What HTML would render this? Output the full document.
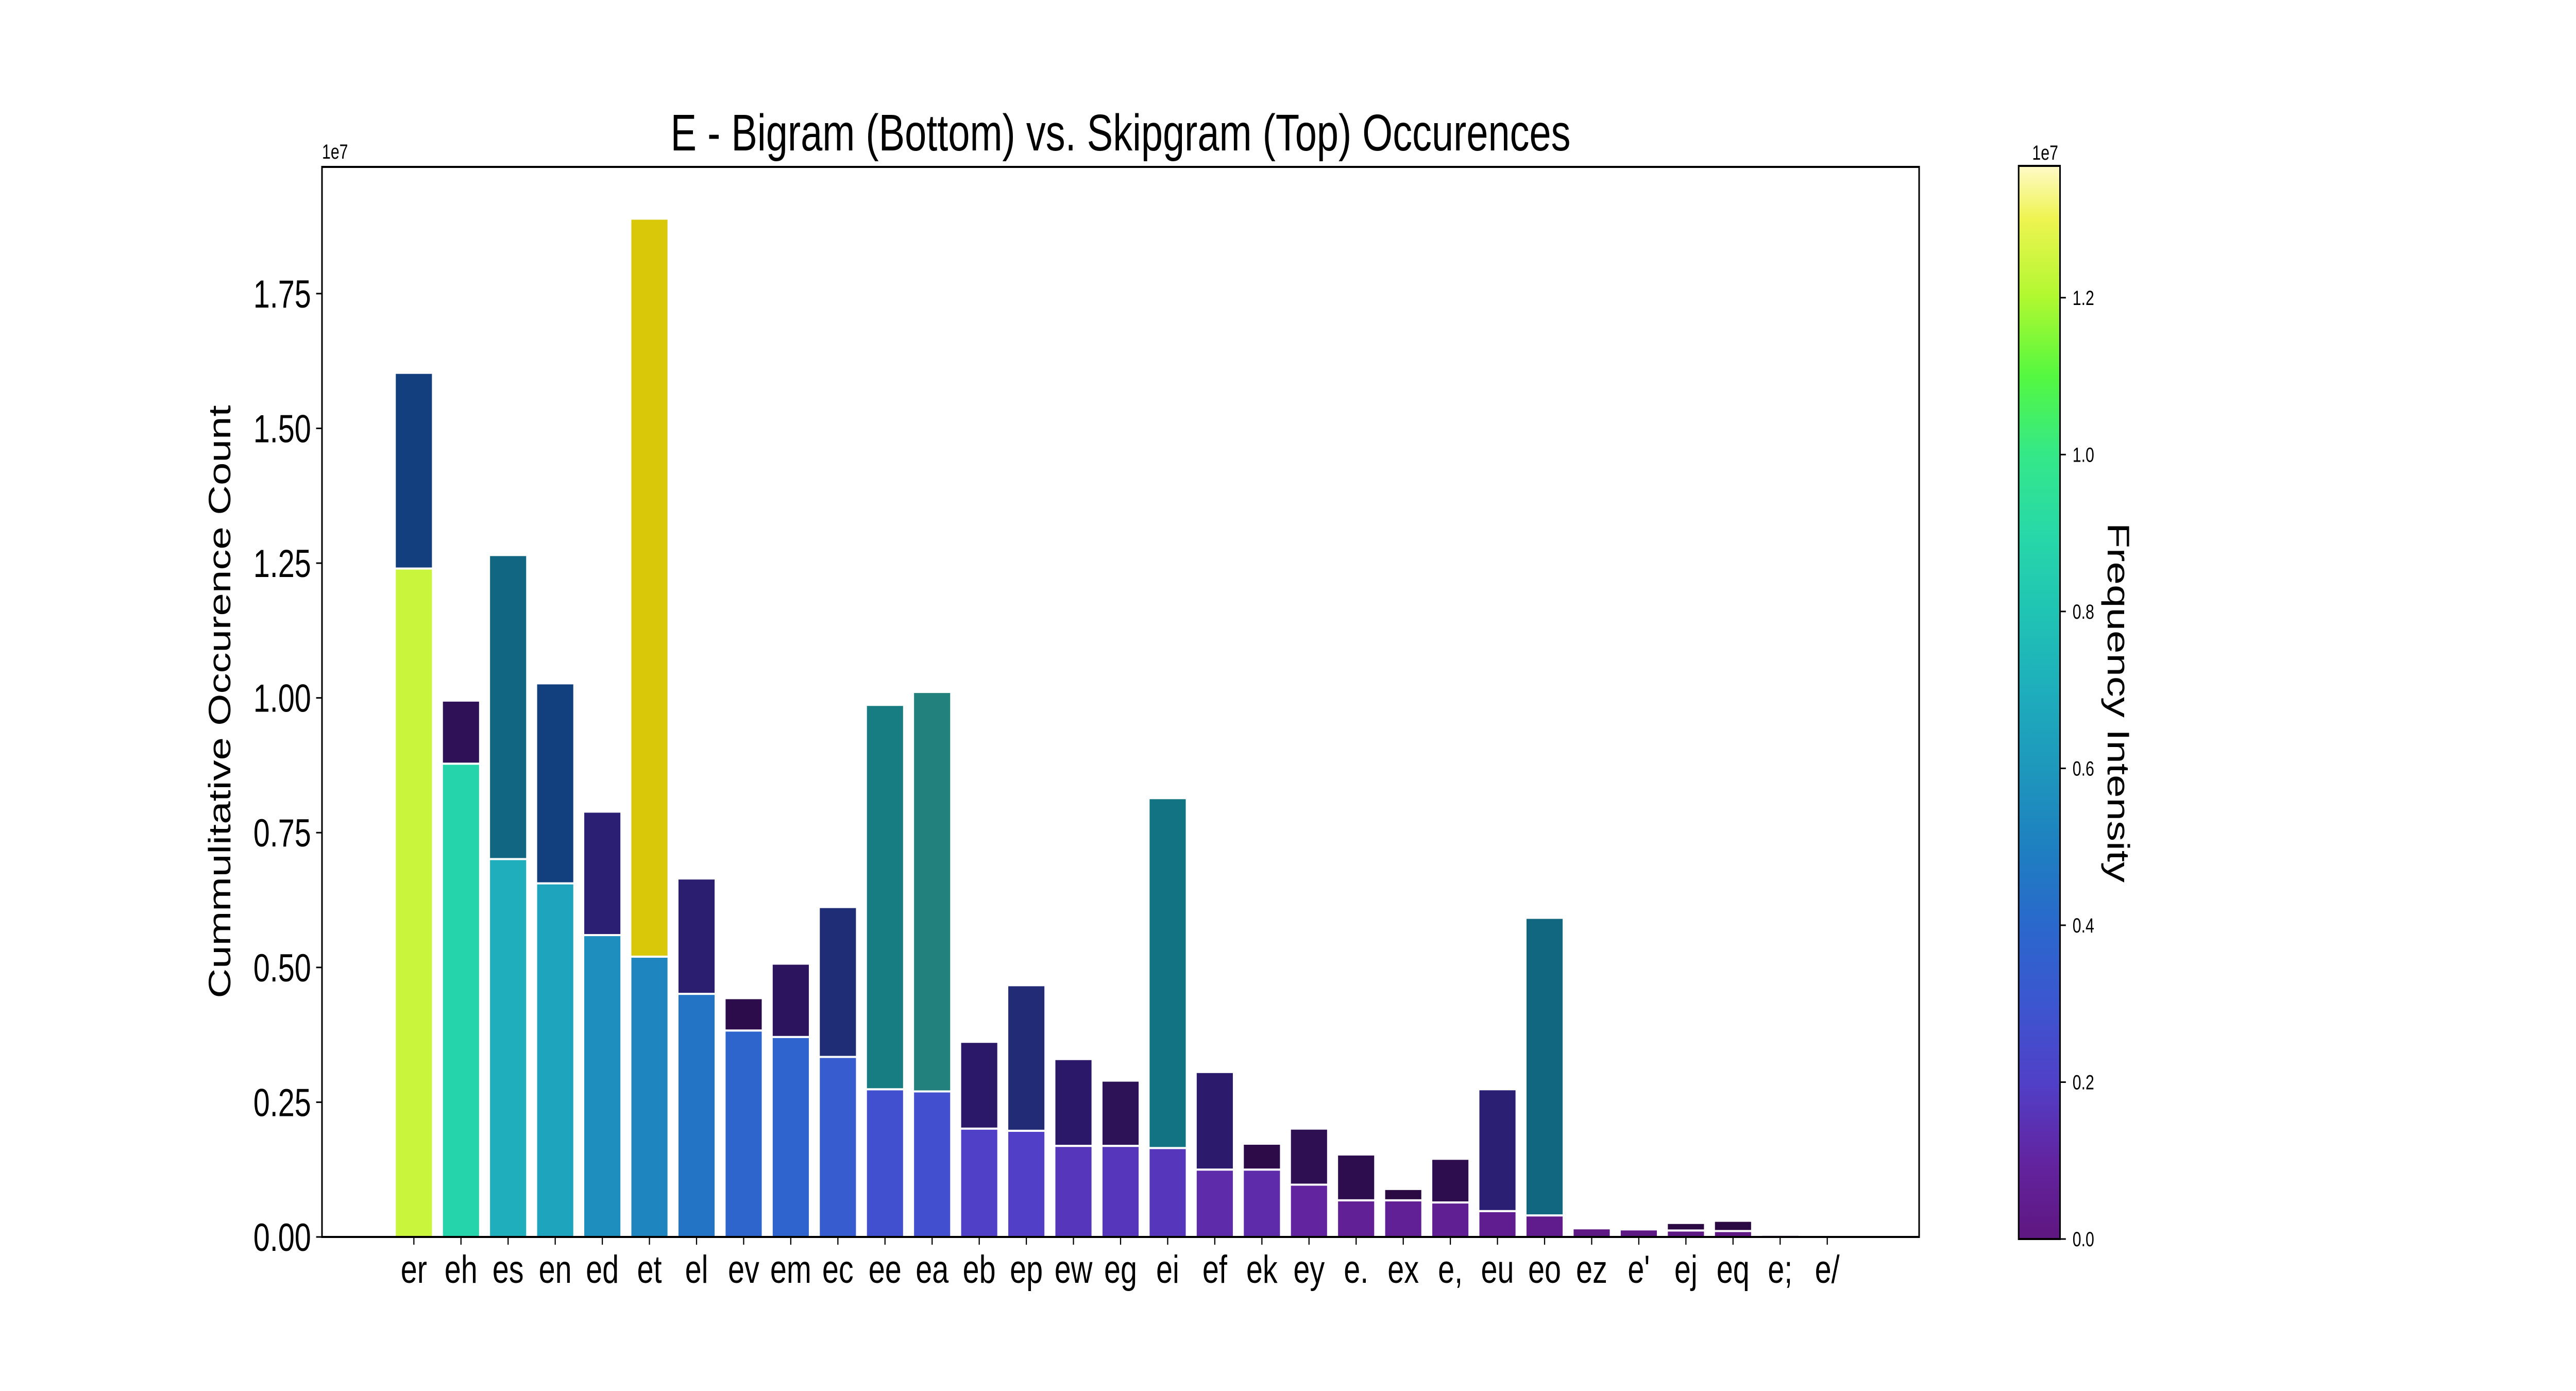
<!DOCTYPE html>
<html><head><meta charset="utf-8"><style>
html,body{margin:0;padding:0;background:#fff;width:100vw;height:100vh;overflow:hidden;}
svg{display:block;width:100vw;height:100vh;font-family:"Liberation Sans","DejaVu Sans",sans-serif;}
</style></head><body>
<svg id="chart" viewBox="0 0 6600 2700" preserveAspectRatio="none" xmlns="http://www.w3.org/2000/svg">
<rect width="6600" height="2700" fill="#fff"/>
<text x="2871" y="292" font-size="100" text-anchor="middle">E - Bigram (Bottom) vs. Skipgram (Top) Occurences</text>
<g id="bars"></g>
<rect x="825" y="324" width="4092" height="2077" fill="none" stroke="#000" stroke-width="4"/>
<g id="yaxis"></g>
<g id="xaxis"></g>
<text x="825" y="308" font-size="40">1e7</text>
<text transform="translate(590,1362) rotate(-90)" font-size="80" text-anchor="middle">Cummulitative Occurence Count</text>
<defs><linearGradient id="cbgrad" x1="0" y1="1" x2="0" y2="0"></linearGradient></defs>
<rect x="5172" y="322" width="106" height="2083" fill="url(#cbgrad)" stroke="#000" stroke-width="4"/>
<g id="cbaxis"></g>
<text x="5240" y="310" font-size="40" text-anchor="middle">1e7</text>
<text transform="translate(5400,1364) rotate(90)" font-size="80" text-anchor="middle">Frequency Intensity</text>
</svg>
<script>
const categories = ["er","eh","es","en","ed","et","el","ev","em","ec","ee","ea","eb","ep","ew","eg","ei","ef","ek","ey","e.","ex","e,","eu","eo","ez","e'","ej","eq","e;","e/"];
const bigramValues = [1.240,0.878,0.701,0.656,0.560,0.520,0.451,0.383,0.371,0.334,0.274,0.270,0.201,0.197,0.169,0.169,0.165,0.125,0.125,0.097,0.068,0.068,0.064,0.048,0.040,0.016,0.014,0.012,0.011,0.004,0.002];
const totalValues = [1.603,0.995,1.265,1.027,0.789,1.889,0.665,0.443,0.507,0.612,0.987,1.011,0.362,0.467,0.330,0.290,0.814,0.306,0.173,0.201,0.153,0.089,0.145,0.274,0.592,0.016,0.014,0.026,0.030,0.004,0.002];
const yTicks = [0,0.25,0.5,0.75,1.0,1.25,1.5,1.75];
const yTickLabels = ["0.00","0.25","0.50","0.75","1.00","1.25","1.50","1.75"];
const cbTicks = [0,0.2,0.4,0.6,0.8,1.0,1.2];
const cbTickLabels = ["0.0","0.2","0.4","0.6","0.8","1.0","1.2"];

const NS="http://www.w3.org/2000/svg";
const X0=825,X1=4917,Y0=2401,Y1=324,YMAX=1.985;
const XMIN=-1.95,XMAX=categories.length-1+1.95;
const xs=i=>X0+(i-XMIN)/(XMAX-XMIN)*(X1-X0);
const ys=v=>Y0-v/YMAX*(Y0-Y1);
const CB0=2405,CB1=322,CBMAX=1.368;
const cbs=v=>CB0-v/CBMAX*(CB0-CB1);
const bottomStops=[[0,"#5f1780"],[0.1,"#6224a0"],[0.2,"#5040c8"],[0.3,"#3c56d0"],[0.4,"#2a68cc"],[0.5,"#1e80c0"],[0.6,"#1e98bc"],[0.7,"#1eaebc"],[0.8,"#20c4b4"],[0.9,"#28d8a8"],[1.0,"#34e888"],[1.1,"#54f840"],[1.2,"#b0f830"],[1.3,"#eef450"],[1.368,"#fffac8"]];
const topStops=[[0,"#2a0840"],[0.1,"#2e0e50"],[0.17,"#2c1a6c"],[0.23,"#2b1f73"],[0.3,"#1a3478"],[0.37,"#12407f"],[0.5,"#10607e"],[0.6,"#116b82"],[0.7,"#137b85"],[0.9,"#5a9a60"],[1.1,"#a0b030"],[1.369,"#d9c70a"]];
function hex(c){return [1,3,5].map(k=>parseInt(c.substr(k,2),16));}
function cmap(stops,v){
 if(v<=stops[0][0])return stops[0][1];
 for(let k=1;k<stops.length;k++){if(v<=stops[k][0]){const a=stops[k-1],b=stops[k];const t=(v-a[0])/(b[0]-a[0]);const ca=hex(a[1]),cb=hex(b[1]);return "rgb("+ca.map((x,j)=>Math.round(x+(cb[j]-x)*t)).join(",")+")";}}
 return stops[stops.length-1][1];
}
const grad=document.getElementById('cbgrad');
bottomStops.forEach(s=>{const st=document.createElementNS(NS,'stop');st.setAttribute('offset',(s[0]/CBMAX*100)+'%');st.setAttribute('stop-color',s[1]);grad.appendChild(st);});
function mk(tag,attrs,parent){const e=document.createElementNS(NS,tag);for(const k in attrs)e.setAttribute(k,attrs[k]);parent.appendChild(e);return e;}
const bars=document.getElementById('bars');
const slot=(X1-X0)/(XMAX-XMIN),bw=slot*0.8;
categories.forEach((c,i)=>{
 const b=bigramValues[i],t=totalValues[i],x=xs(i)-bw/2;
 const r1=mk('rect',{x:x,y:ys(b),width:bw,height:Math.max(0,ys(0)-ys(b)),fill:cmap(bottomStops,b),stroke:'#fff','stroke-width':4},bars);
 
 
 const s=t-b;
 if(s>0.0005){
  const r2=mk('rect',{x:x,y:ys(t),width:bw,height:Math.max(0,ys(b)-ys(t)),fill:cmap(topStops,s),stroke:'#fff','stroke-width':4},bars);
  
  
 }
});
const ya=document.getElementById('yaxis');
yTicks.forEach((v,k)=>{
 const l=mk('line',{x1:X0-15,x2:X0,y1:ys(v),y2:ys(v),stroke:'#000','stroke-width':3},ya);
 
 
 const tx=mk('text',{x:X0-28,y:ys(v)+27,'font-size':76,'text-anchor':'end'},ya);
 
 
 tx.textContent=yTickLabels[k];
});
const xa=document.getElementById('xaxis');
categories.forEach((c,i)=>{
 const l=mk('line',{x1:xs(i),x2:xs(i),y1:Y0,y2:Y0+15,stroke:'#000','stroke-width':3},xa);
 
 
 const tx=mk('text',{x:xs(i),y:2490,'font-size':76,'text-anchor':'middle'},xa);
 
 
 tx.textContent=c;
});
const ca=document.getElementById('cbaxis');
cbTicks.forEach((v,k)=>{
 const l=mk('line',{x1:5278,x2:5293,y1:cbs(v),y2:cbs(v),stroke:'#000','stroke-width':3},ca);
 
 
 const tx=mk('text',{x:5310,y:cbs(v)+14,'font-size':40},ca);
 
 
 tx.textContent=cbTickLabels[k];
});
</script>
</body></html>
